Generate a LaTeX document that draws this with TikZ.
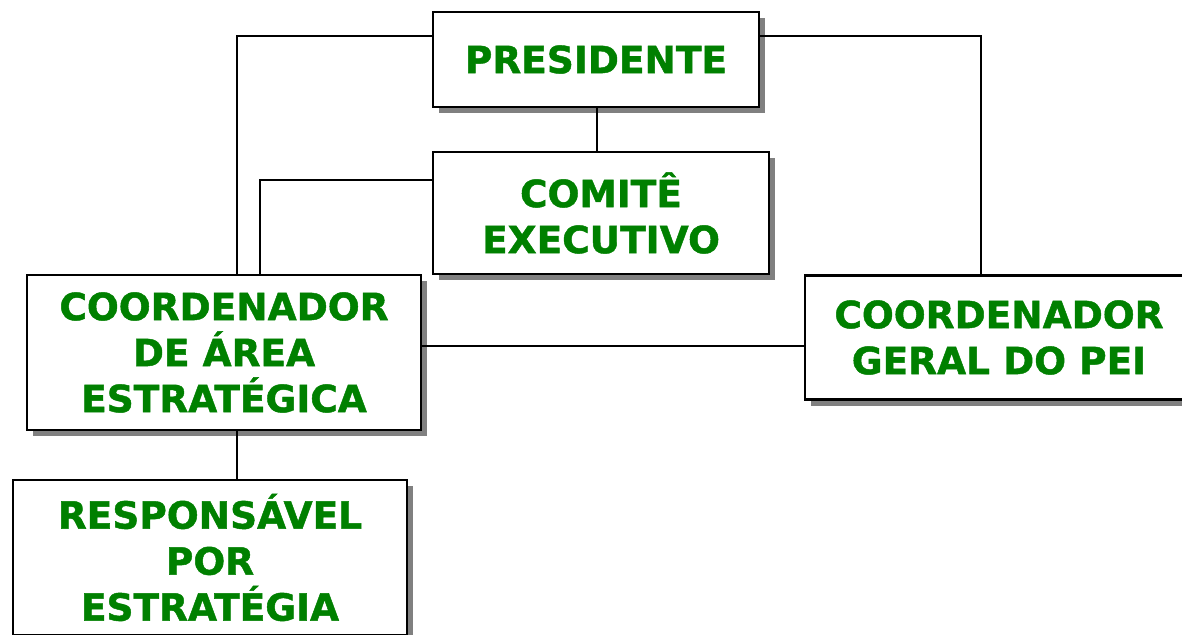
\documentclass[tikz,border=0pt]{standalone}
\usepackage{fontspec}
\setmainfont{DejaVu Sans}[BoldFeatures={FakeBold=1.2}]
\usetikzlibrary{shadows}
\definecolor{txtgreen}{HTML}{008000}
\definecolor{shadowgray}{HTML}{808080}
\tikzset{
  orgbox/.style={draw=black, line width=2.4pt, fill=white, rectangle, inner sep=0pt,
    align=center, text=txtgreen, font=\fontsize{37.5}{46}\selectfont\bfseries,
    drop shadow={shadow xshift=6pt, shadow yshift=-6pt, fill=shadowgray, opacity=1}},
  link/.style={draw=black, line width=2.2pt}
}
\begin{document}
\begin{tikzpicture}[x=1pt,y=-1pt]
\useasboundingbox (0,0) rectangle (1182,634);
\node[orgbox, minimum width=326pt, minimum height=95pt] (pres) at (596,59.5) {PRESIDENTE};
\node[orgbox, minimum width=336pt, minimum height=122pt] (com) at (601,213) {COMITÊ\\EXECUTIVO};
\node[orgbox, minimum width=394pt, minimum height=155pt] (area) at (224,352.5) {COORDENADOR\\DE ÁREA\\ESTRATÉGICA};
\node[orgbox, minimum width=388pt, minimum height=124pt] (geral) at (999,337.5) {COORDENADOR\\GERAL DO PEI};
\node[orgbox, minimum width=394pt, minimum height=155pt] (resp) at (210,557.5) {RESPONSÁVEL\\POR\\ESTRATÉGIA};
\coordinate (c1) at (237,36);
\coordinate (c2) at (981,36);
\coordinate (c3) at (260,180);
\draw[link] (pres.west |- c1) -- (c1) -- (c1 |- area.north);
\draw[link] (pres.east |- c2) -- (c2) -- (c2 |- geral.north);
\draw[link] (pres.south -| 597,0) -- (com.north -| 597,0);
\draw[link] (com.west |- c3) -- (c3) -- (c3 |- area.north);
\draw[link] (area.east |- 0,346) -- (geral.west |- 0,346);
\draw[link] (area.south -| 237,0) -- (resp.north -| 237,0);
\end{tikzpicture}
\end{document}
